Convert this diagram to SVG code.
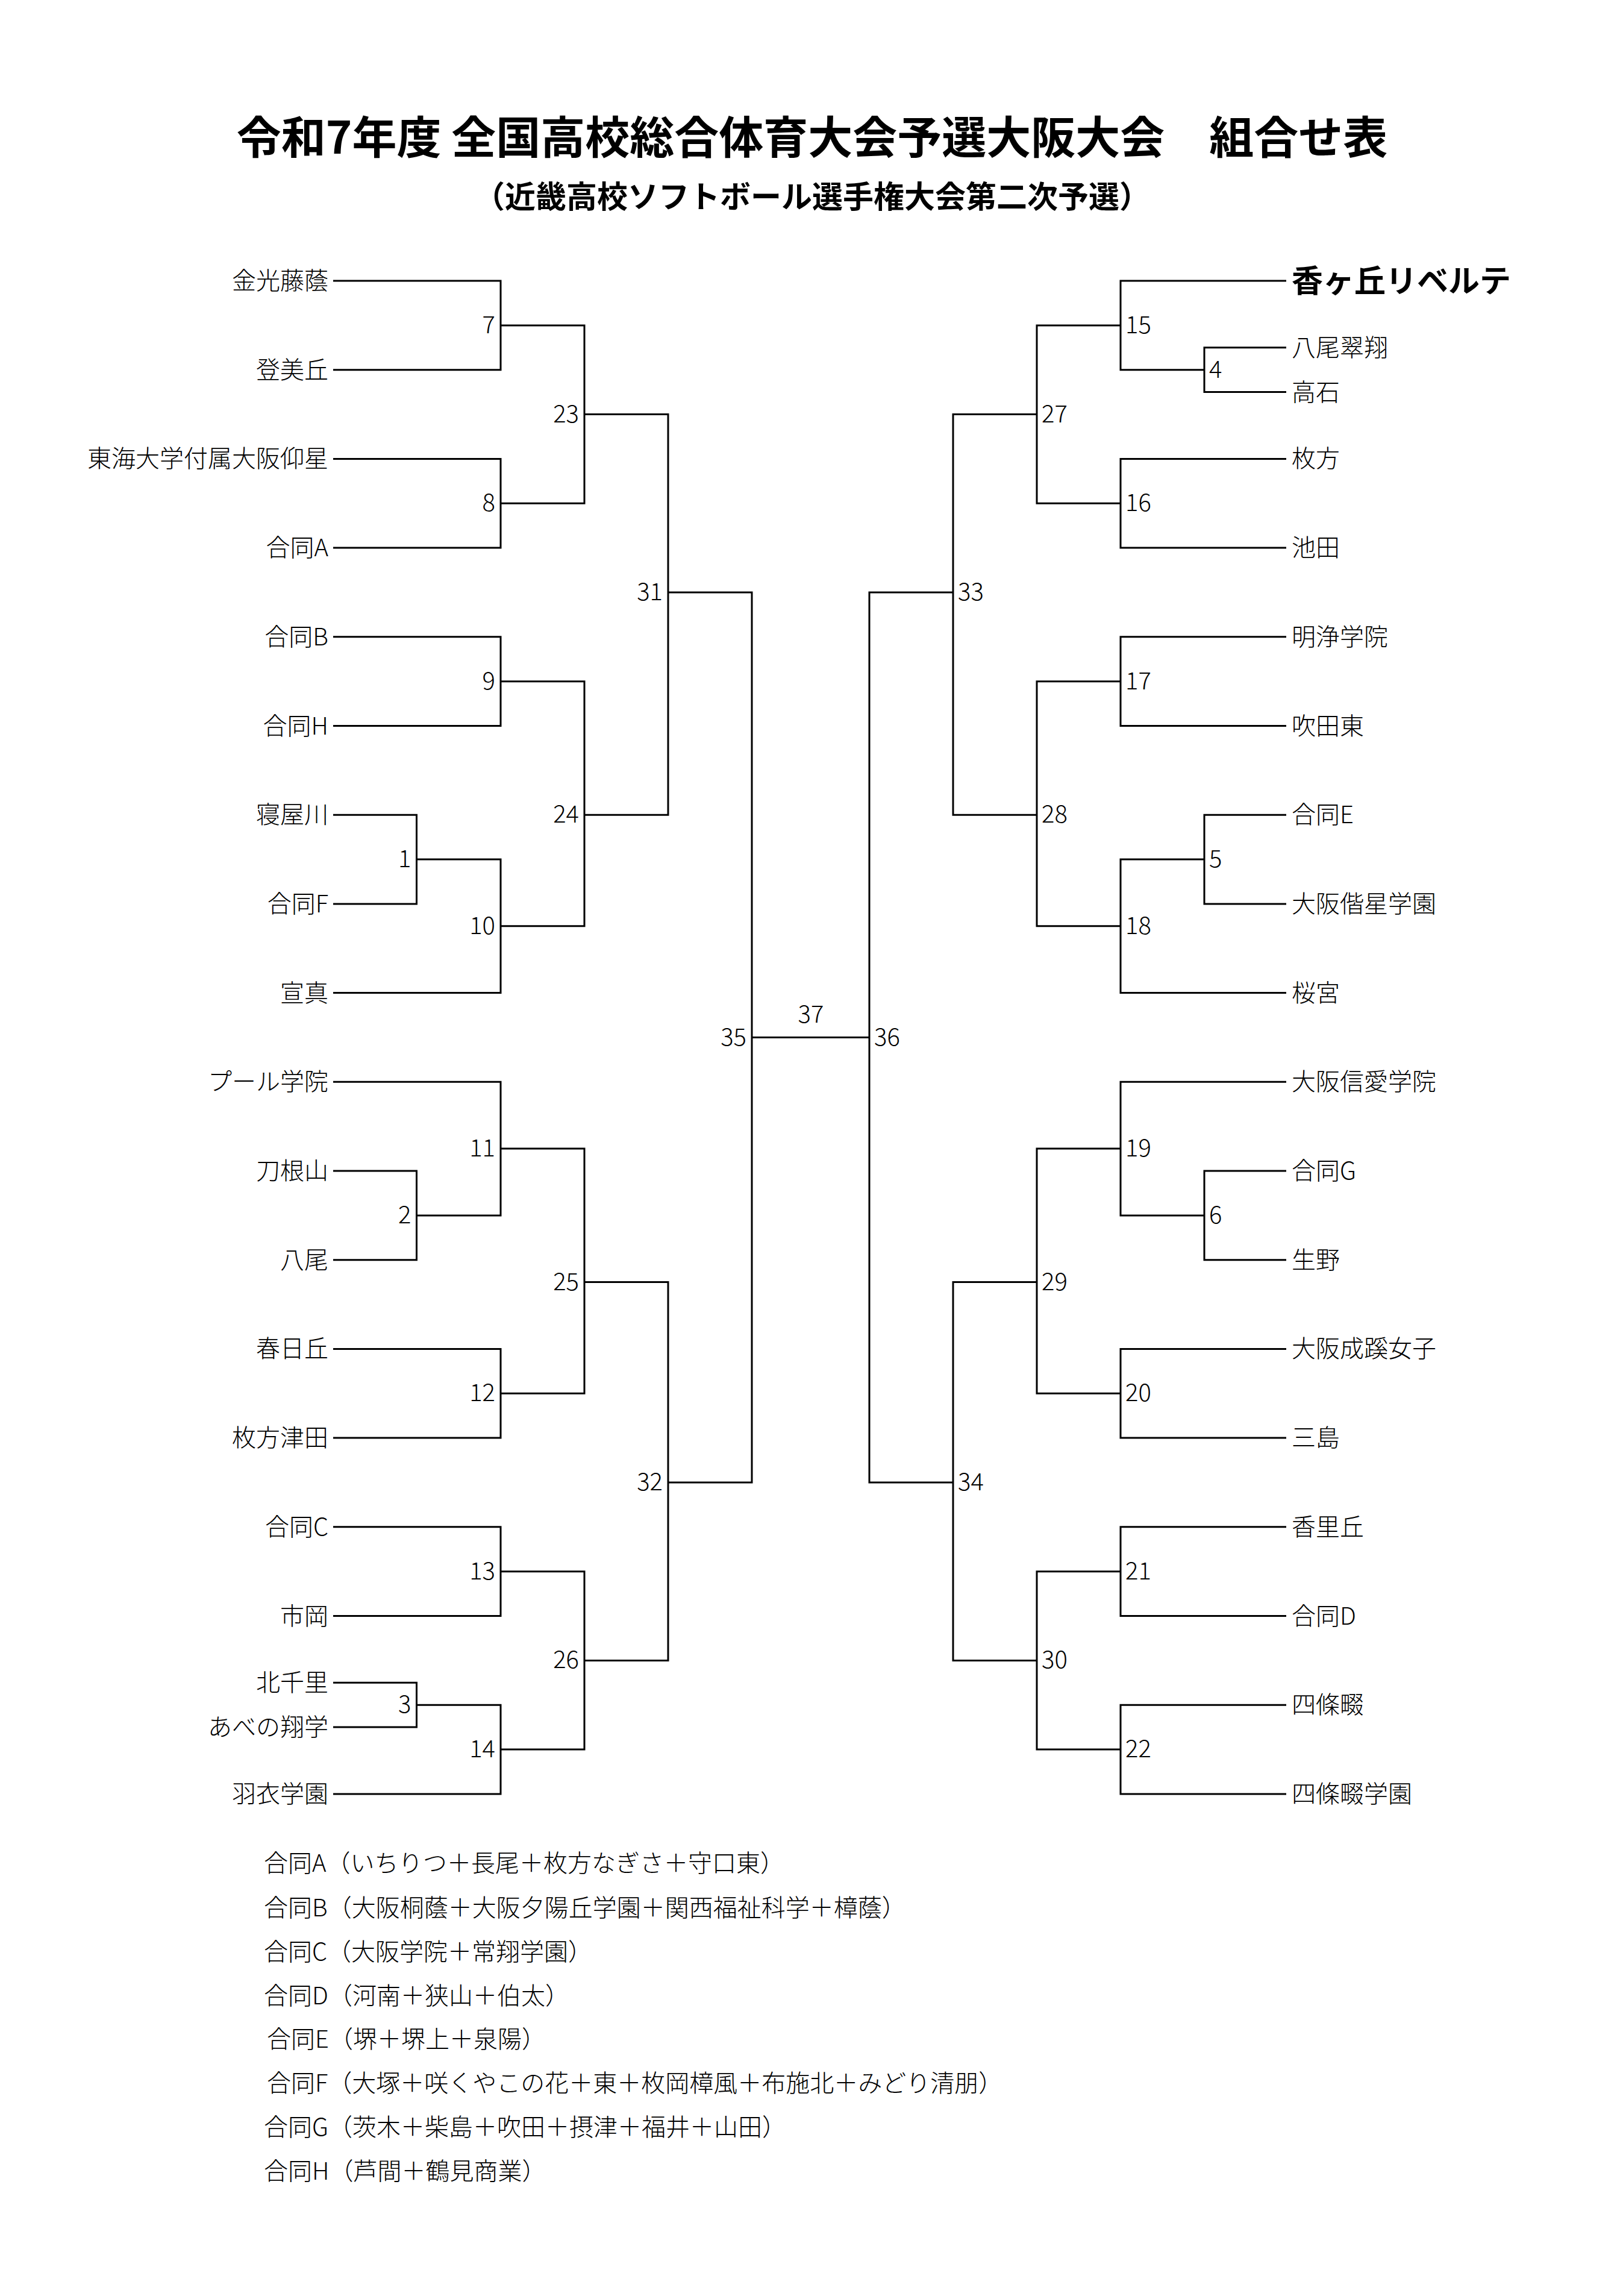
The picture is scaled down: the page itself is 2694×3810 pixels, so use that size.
<svg xmlns="http://www.w3.org/2000/svg" width="2694" height="3810" viewBox="0 0 2694 3810">
<style>
text{font-family:"Noto Sans CJK JP","Noto Sans",sans-serif;fill:#000;font-size:40px;font-weight:300}
.title{font-size:74px;font-weight:bold;text-anchor:middle}
.sub{font-size:51px;font-weight:bold;text-anchor:middle}
.tl{text-anchor:end}
.tr{text-anchor:start}
.win{font-size:52px;font-weight:bold}
.nl{text-anchor:end}
.nr{text-anchor:start}
.nc{text-anchor:middle}
#connectors path{fill:none;stroke:#000;stroke-width:3;stroke-linejoin:miter}
</style>
<rect width="2694" height="3810" fill="#fff"/>
<g id="header">
<text class="title" x="1348" y="255">令和7年度 全国高校総合体育大会予選大阪大会　組合せ表</text>
<text class="sub" x="1348" y="345">（近畿高校ソフトボール選手権大会第二次予選）</text>
</g>
<g id="connectors">
<path d="M553 466 H831 V613.7 H553"/>
<path d="M553 761.4 H831 V909.1 H553"/>
<path d="M831 539.9 H970 V835.3 H831"/>
<path d="M553 1056.8 H831 V1204.5 H553"/>
<path d="M553 1352.2 H691.5 V1499.9 H553"/>
<path d="M691.5 1426.1 H831 V1647.6 H553"/>
<path d="M831 1130.7 H970 V1536.8 H831"/>
<path d="M970 687.6 H1109 V1352.2 H970"/>
<path d="M553 1943 H691.5 V2090.7 H553"/>
<path d="M553 1795.3 H831 V2016.9 H691.5"/>
<path d="M553 2238.4 H831 V2386.1 H553"/>
<path d="M831 1906.1 H970 V2312.3 H831"/>
<path d="M553 2533.8 H831 V2681.5 H553"/>
<path d="M553 2792.3 H691.5 V2866.1 H553"/>
<path d="M691.5 2829.2 H831 V2976.9 H553"/>
<path d="M831 2607.7 H970 V2903.1 H831"/>
<path d="M970 2127.6 H1109 V2755.4 H970"/>
<path d="M1109 983 H1248 V2460 H1109"/>
<path d="M1248 1721.5 H1443"/>
<path d="M2135 466 H1860 V613.7 H1999"/>
<path d="M2135 576.8 H1999 V650.6 H2135"/>
<path d="M2135 761.4 H1860 V909.1 H2135"/>
<path d="M1860 539.9 H1721 V835.3 H1860"/>
<path d="M2135 1056.8 H1860 V1204.5 H2135"/>
<path d="M2135 1352.2 H1999 V1499.9 H2135"/>
<path d="M1999 1426.1 H1860 V1647.6 H2135"/>
<path d="M1860 1130.7 H1721 V1536.8 H1860"/>
<path d="M1721 687.6 H1582 V1352.2 H1721"/>
<path d="M2135 1795.3 H1860 V2016.9 H1999"/>
<path d="M2135 1943 H1999 V2090.7 H2135"/>
<path d="M2135 2238.4 H1860 V2386.1 H2135"/>
<path d="M1860 1906.1 H1721 V2312.3 H1860"/>
<path d="M2135 2533.8 H1860 V2681.5 H2135"/>
<path d="M2135 2829.2 H1860 V2976.9 H2135"/>
<path d="M1860 2607.7 H1721 V2903.1 H1860"/>
<path d="M1721 2127.6 H1582 V2755.4 H1721"/>
<path d="M1582 983 H1443 V2460 H1582"/>
</g>
<g id="teams-left">
<g id="t-kinko"><text class="tl" x="545" y="480">金光藤蔭</text></g>
<g id="t-tomioka"><text class="tl" x="545" y="627.7">登美丘</text></g>
<g id="t-tokai"><text class="tl" x="545" y="775.4">東海大学付属大阪仰星</text></g>
<g id="t-godoA"><text class="tl" x="545" y="923.1">合同A</text></g>
<g id="t-godoB"><text class="tl" x="545" y="1070.8">合同B</text></g>
<g id="t-godoH"><text class="tl" x="545" y="1218.5">合同H</text></g>
<g id="t-neyagawa"><text class="tl" x="545" y="1366.2">寝屋川</text></g>
<g id="t-godoF"><text class="tl" x="545" y="1513.9">合同F</text></g>
<g id="t-senshin"><text class="tl" x="545" y="1661.6">宣真</text></g>
<g id="t-poole"><text class="tl" x="545" y="1809.3">プール学院</text></g>
<g id="t-toneyama"><text class="tl" x="545" y="1957">刀根山</text></g>
<g id="t-yao"><text class="tl" x="545" y="2104.7">八尾</text></g>
<g id="t-kasugaoka"><text class="tl" x="545" y="2252.4">春日丘</text></g>
<g id="t-hirakatatsuda"><text class="tl" x="545" y="2400.1">枚方津田</text></g>
<g id="t-godoC"><text class="tl" x="545" y="2547.8">合同C</text></g>
<g id="t-ichioka"><text class="tl" x="545" y="2695.5">市岡</text></g>
<g id="t-kitasenri"><text class="tl" x="545" y="2806.3">北千里</text></g>
<g id="t-abeno"><text class="tl" x="545" y="2880.1">あべの翔学</text></g>
<g id="t-hagoromo"><text class="tl" x="545" y="2990.9">羽衣学園</text></g>
</g>
<g id="teams-right">
<g id="t-kaorigaoka-liberte"><text class="tr win" x="2144" y="485">香ヶ丘リベルテ</text></g>
<g id="t-yaosuisho"><text class="tr" x="2144" y="590.8">八尾翠翔</text></g>
<g id="t-takaishi"><text class="tr" x="2144" y="664.6">高石</text></g>
<g id="t-hirakata"><text class="tr" x="2144" y="775.4">枚方</text></g>
<g id="t-ikeda"><text class="tr" x="2144" y="923.1">池田</text></g>
<g id="t-meijo"><text class="tr" x="2144" y="1070.8">明浄学院</text></g>
<g id="t-suitahigashi"><text class="tr" x="2144" y="1218.5">吹田東</text></g>
<g id="t-godoE"><text class="tr" x="2144" y="1366.2">合同E</text></g>
<g id="t-kaisei"><text class="tr" x="2144" y="1513.9">大阪偕星学園</text></g>
<g id="t-sakuranomiya"><text class="tr" x="2144" y="1661.6">桜宮</text></g>
<g id="t-shinai"><text class="tr" x="2144" y="1809.3">大阪信愛学院</text></g>
<g id="t-godoG"><text class="tr" x="2144" y="1957">合同G</text></g>
<g id="t-ikuno"><text class="tr" x="2144" y="2104.7">生野</text></g>
<g id="t-seikei"><text class="tr" x="2144" y="2252.4">大阪成蹊女子</text></g>
<g id="t-mishima"><text class="tr" x="2144" y="2400.1">三島</text></g>
<g id="t-korigaoka"><text class="tr" x="2144" y="2547.8">香里丘</text></g>
<g id="t-godoD"><text class="tr" x="2144" y="2695.5">合同D</text></g>
<g id="t-shijonawate"><text class="tr" x="2144" y="2843.2">四條畷</text></g>
<g id="t-shijonawategakuen"><text class="tr" x="2144" y="2990.9">四條畷学園</text></g>
</g>
<g id="matches-left">
<g id="m7"><text class="nl" x="822" y="552.9">7</text></g>
<g id="m8"><text class="nl" x="822" y="848.3">8</text></g>
<g id="m23"><text class="nl" x="961" y="700.6">23</text></g>
<g id="m9"><text class="nl" x="822" y="1143.7">9</text></g>
<g id="m1"><text class="nl" x="682.5" y="1439.1">1</text></g>
<g id="m10"><text class="nl" x="822" y="1549.8">10</text></g>
<g id="m24"><text class="nl" x="961" y="1365.2">24</text></g>
<g id="m31"><text class="nl" x="1100" y="996">31</text></g>
<g id="m2"><text class="nl" x="682.5" y="2029.9">2</text></g>
<g id="m11"><text class="nl" x="822" y="1919.1">11</text></g>
<g id="m12"><text class="nl" x="822" y="2325.3">12</text></g>
<g id="m25"><text class="nl" x="961" y="2140.6">25</text></g>
<g id="m13"><text class="nl" x="822" y="2620.7">13</text></g>
<g id="m3"><text class="nl" x="682.5" y="2842.2">3</text></g>
<g id="m14"><text class="nl" x="822" y="2916.1">14</text></g>
<g id="m26"><text class="nl" x="961" y="2768.4">26</text></g>
<g id="m32"><text class="nl" x="1100" y="2473">32</text></g>
<g id="m35"><text class="nl" x="1239" y="1734.5">35</text></g>
</g>
<g id="m37"><text class="nc" x="1346" y="1697">37</text></g>
<g id="matches-right">
<g id="m15"><text class="nr" x="1868" y="552.9">15</text></g>
<g id="m4"><text class="nr" x="2007" y="626.7">4</text></g>
<g id="m16"><text class="nr" x="1868" y="848.3">16</text></g>
<g id="m27"><text class="nr" x="1729" y="700.6">27</text></g>
<g id="m17"><text class="nr" x="1868" y="1143.7">17</text></g>
<g id="m5"><text class="nr" x="2007" y="1439.1">5</text></g>
<g id="m18"><text class="nr" x="1868" y="1549.8">18</text></g>
<g id="m28"><text class="nr" x="1729" y="1365.2">28</text></g>
<g id="m33"><text class="nr" x="1590" y="996">33</text></g>
<g id="m19"><text class="nr" x="1868" y="1919.1">19</text></g>
<g id="m6"><text class="nr" x="2007" y="2029.9">6</text></g>
<g id="m20"><text class="nr" x="1868" y="2325.3">20</text></g>
<g id="m29"><text class="nr" x="1729" y="2140.6">29</text></g>
<g id="m21"><text class="nr" x="1868" y="2620.7">21</text></g>
<g id="m22"><text class="nr" x="1868" y="2916.1">22</text></g>
<g id="m30"><text class="nr" x="1729" y="2768.4">30</text></g>
<g id="m34"><text class="nr" x="1590" y="2473">34</text></g>
<g id="m36"><text class="nr" x="1451" y="1734.5">36</text></g>
</g>
<g id="notes">
<text x="438" y="3105.6">合同A（いちりつ＋長尾＋枚方なぎさ＋守口東）</text>
<text x="438" y="3180.2">合同B（大阪桐蔭＋大阪夕陽丘学園＋関西福祉科学＋樟蔭）</text>
<text x="438" y="3253">合同C（大阪学院＋常翔学園）</text>
<text x="438" y="3325.7">合同D（河南＋狭山＋伯太）</text>
<text x="443" y="3398.4">合同E（堺＋堺上＋泉陽）</text>
<text x="443" y="3471">合同F（大塚＋咲くやこの花＋東＋枚岡樟風＋布施北＋みどり清朋）</text>
<text x="438" y="3543.8">合同G（茨木＋柴島＋吹田＋摂津＋福井＋山田）</text>
<text x="438" y="3616.5">合同H（芦間＋鶴見商業）</text>
</g>
</svg>
